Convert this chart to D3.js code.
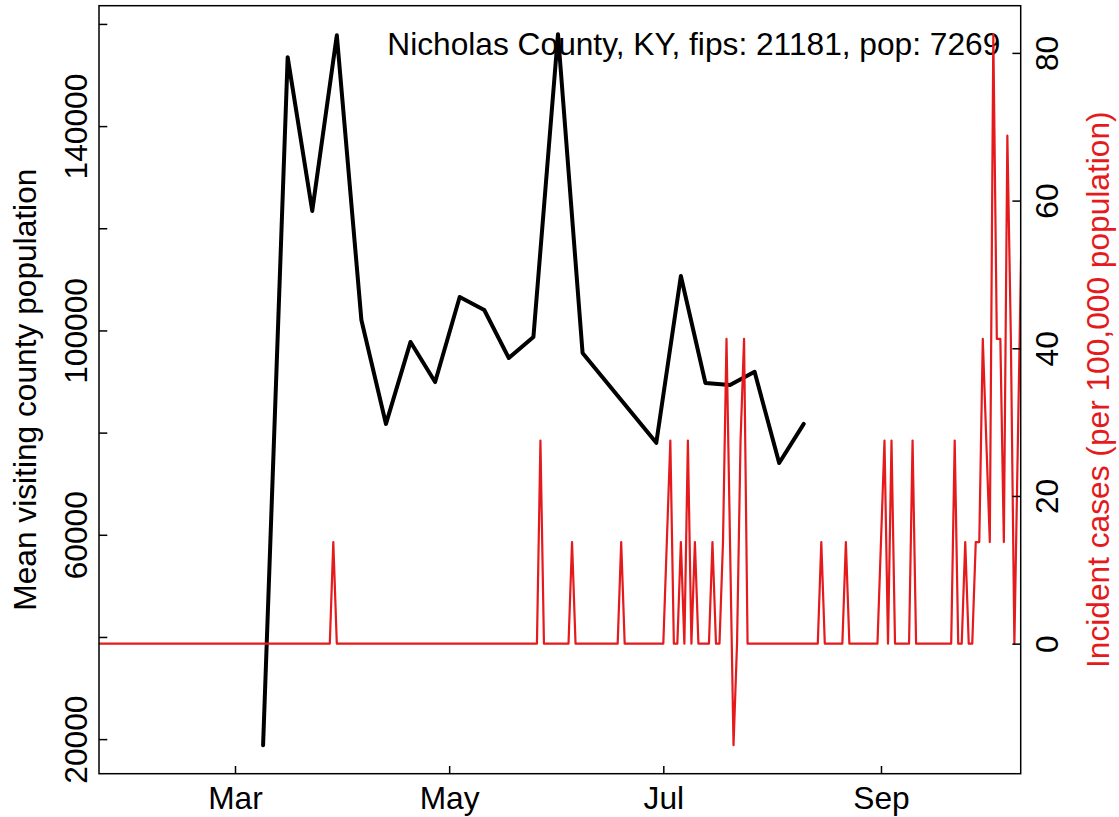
<!DOCTYPE html>
<html><head><meta charset="utf-8">
<script src="https://cdn.jsdelivr.net/npm/d3@7"></script>
<style>
body{margin:0;background:#fff}
svg{display:block}
text{font-family:"Liberation Sans", Arial, Helvetica, sans-serif;}
</style>
</head><body>
<svg id="chart" width="1119" height="817"></svg>
<script>
// ---- data ----
const visitDates = ["2020-03-09","2020-03-16","2020-03-23","2020-03-30","2020-04-06","2020-04-13","2020-04-20","2020-04-27","2020-05-04","2020-05-11","2020-05-18","2020-05-25","2020-06-01","2020-06-08","2020-06-29","2020-07-06","2020-07-13","2020-07-20","2020-07-27","2020-08-03","2020-08-10"];
const visitValues = [18800,153500,123400,157800,102050,81700,97750,89900,106550,104000,94600,98700,158000,95600,78000,110650,89700,89300,91900,74050,81700];

// incident cases per 100,000 (days not listed are 0)
const caseStart = "2020-01-22";
const caseEnd = "2020-10-11";
const caseDates = ["2020-03-29","2020-05-27","2020-06-05","2020-06-19","2020-07-02","2020-07-03","2020-07-06","2020-07-08","2020-07-10","2020-07-15","2020-07-18","2020-07-19","2020-07-20","2020-07-21","2020-07-23","2020-07-24","2020-08-15","2020-08-22","2020-09-01","2020-09-02","2020-09-04","2020-09-10","2020-09-22","2020-09-25","2020-09-28","2020-09-29","2020-09-30","2020-10-01","2020-10-02","2020-10-03","2020-10-04","2020-10-05","2020-10-06","2020-10-07","2020-10-08","2020-10-10","2020-10-11"];
const caseValues = [13.76,27.51,13.76,13.76,13.76,27.51,13.76,27.51,13.76,13.76,13.76,41.27,13.76,-13.76,27.51,41.27,13.76,13.76,13.76,27.51,27.51,27.51,27.51,13.76,13.76,13.76,41.27,27.51,13.76,82.54,41.27,41.27,13.76,68.79,41.27,27.51,55.03];

const leftTicks = [20000,40000,60000,80000,100000,120000,140000,160000];
const leftLabels = [20000,60000,100000,140000];
const rightTicks = [0,20,40,60,80];
const monthTicks = ["2020-03-01","2020-05-01","2020-07-01","2020-09-01"];
const monthLabels = ["Mar","May","Jul","Sep"];
const titleText = "Nicholas County, KY, fips: 21181, pop: 7269";
const leftTitle = "Mean visiting county population";
const rightTitle = "Incident cases (per 100,000 population)";

// ---- layout ----
const W = 1119, H = 817;
const P = {left: 99, right: 1020.7, top: 5.7, bottom: 773.7};
const FS = 31.7;
const RED = "#E41A1C";

const parse = d3.utcParse("%Y-%m-%d");
const svg = d3.select("#chart");

const x = d3.scaleUtc()
  .domain([new Date(Date.UTC(2020,0,22,6,14)), new Date(Date.UTC(2020,9,10,19,12))])
  .range([P.left, P.right]);

function padded(ext){ const r = ext[1]-ext[0]; return [ext[0]-0.04*r, ext[1]+0.04*r]; }

const yL = d3.scaleLinear().domain(padded(d3.extent(visitValues))).range([P.bottom, P.top]);
const yR = d3.scaleLinear().domain(padded(d3.extent(caseValues))).range([P.bottom, P.top]);

// build daily case series
const caseMap = new Map(caseDates.map((d,i)=>[d, caseValues[i]]));
const fmt = d3.utcFormat("%Y-%m-%d");
const caseSeries = d3.utcDay.range(parse(caseStart), d3.utcDay.offset(parse(caseEnd),1))
  .map(d => ({date: d, value: caseMap.has(fmt(d)) ? caseMap.get(fmt(d)) : 0}));
const visitSeries = visitDates.map((d,i)=>({date: parse(d), value: visitValues[i]}));

svg.append("defs").append("clipPath").attr("id","plotclip")
  .append("rect").attr("x",P.left).attr("y",P.top)
  .attr("width",P.right-P.left).attr("height",P.bottom-P.top);

// black line
svg.append("path").datum(visitSeries)
  .attr("clip-path","url(#plotclip)")
  .attr("fill","none").attr("stroke","#000").attr("stroke-width",4)
  .attr("stroke-linejoin","round").attr("stroke-linecap","round")
  .attr("d", d3.line().x(d=>x(d.date)).y(d=>yL(d.value)));

// title
svg.append("text").attr("x",387.3).attr("y",55).attr("font-size",FS).attr("fill","#000").text(titleText);

// red line
svg.append("path").datum(caseSeries)
  .attr("clip-path","url(#plotclip)")
  .attr("fill","none").attr("stroke",RED).attr("stroke-width",2.2)
  .attr("stroke-linejoin","round")
  .attr("d", d3.line().x(d=>x(d.date)).y(d=>yR(d.value)));

// box
svg.append("rect").attr("x",P.left).attr("y",P.top)
  .attr("width",P.right-P.left).attr("height",P.bottom-P.top)
  .attr("fill","none").attr("stroke","#000").attr("stroke-width",1.5);

// left axis
const gL = svg.append("g").attr("transform",`translate(${P.left},0)`)
  .call(d3.axisLeft(yL).tickValues(leftTicks).tickSizeInner(-8.3).tickSizeOuter(0)
    .tickFormat(v => leftLabels.includes(v) ? String(v) : ""));
gL.select(".domain").remove();
gL.selectAll(".tick line").attr("stroke","#000").attr("stroke-width",1.5);
gL.selectAll(".tick text").attr("x",null).attr("dy",null).attr("y",null)
  .attr("transform","translate(-12,0) rotate(-90)")
  .attr("text-anchor","middle").attr("font-size",FS).attr("font-family",null).attr("fill","#000");

// right axis
const gR = svg.append("g").attr("transform",`translate(${P.right},0)`)
  .call(d3.axisRight(yR).tickValues(rightTicks).tickSizeInner(-8.3).tickSizeOuter(0)
    .tickFormat(d3.format("d")));
gR.select(".domain").remove();
gR.selectAll(".tick line").attr("stroke","#000").attr("stroke-width",1.5);
gR.selectAll(".tick text").attr("x",null).attr("dy",null).attr("y",null)
  .attr("transform","translate(37.3,0) rotate(-90)")
  .attr("text-anchor","middle").attr("font-size",FS).attr("font-family",null).attr("fill","#000");

// bottom axis
const gB = svg.append("g").attr("transform",`translate(0,${P.bottom})`)
  .call(d3.axisBottom(x).tickValues(monthTicks.map(parse)).tickSizeInner(-7.7).tickSizeOuter(0)
    .tickFormat((d,i)=>monthLabels[i]));
gB.select(".domain").remove();
gB.selectAll(".tick line").attr("stroke","#000").attr("stroke-width",1.5);
gB.selectAll(".tick text").attr("y",35.8).attr("dy",null)
  .attr("text-anchor","middle").attr("font-size",FS).attr("font-family",null).attr("fill","#000");

// axis titles
const cy = (P.top+P.bottom)/2;
svg.append("text").attr("transform",`translate(36,${cy}) rotate(-90)`)
  .attr("text-anchor","middle").attr("font-size",FS).attr("fill","#000").text(leftTitle);
svg.append("text").attr("transform",`translate(1109,${cy}) rotate(-90)`)
  .attr("text-anchor","middle").attr("font-size",FS).attr("fill",RED).text(rightTitle);
</script>
</body></html>
